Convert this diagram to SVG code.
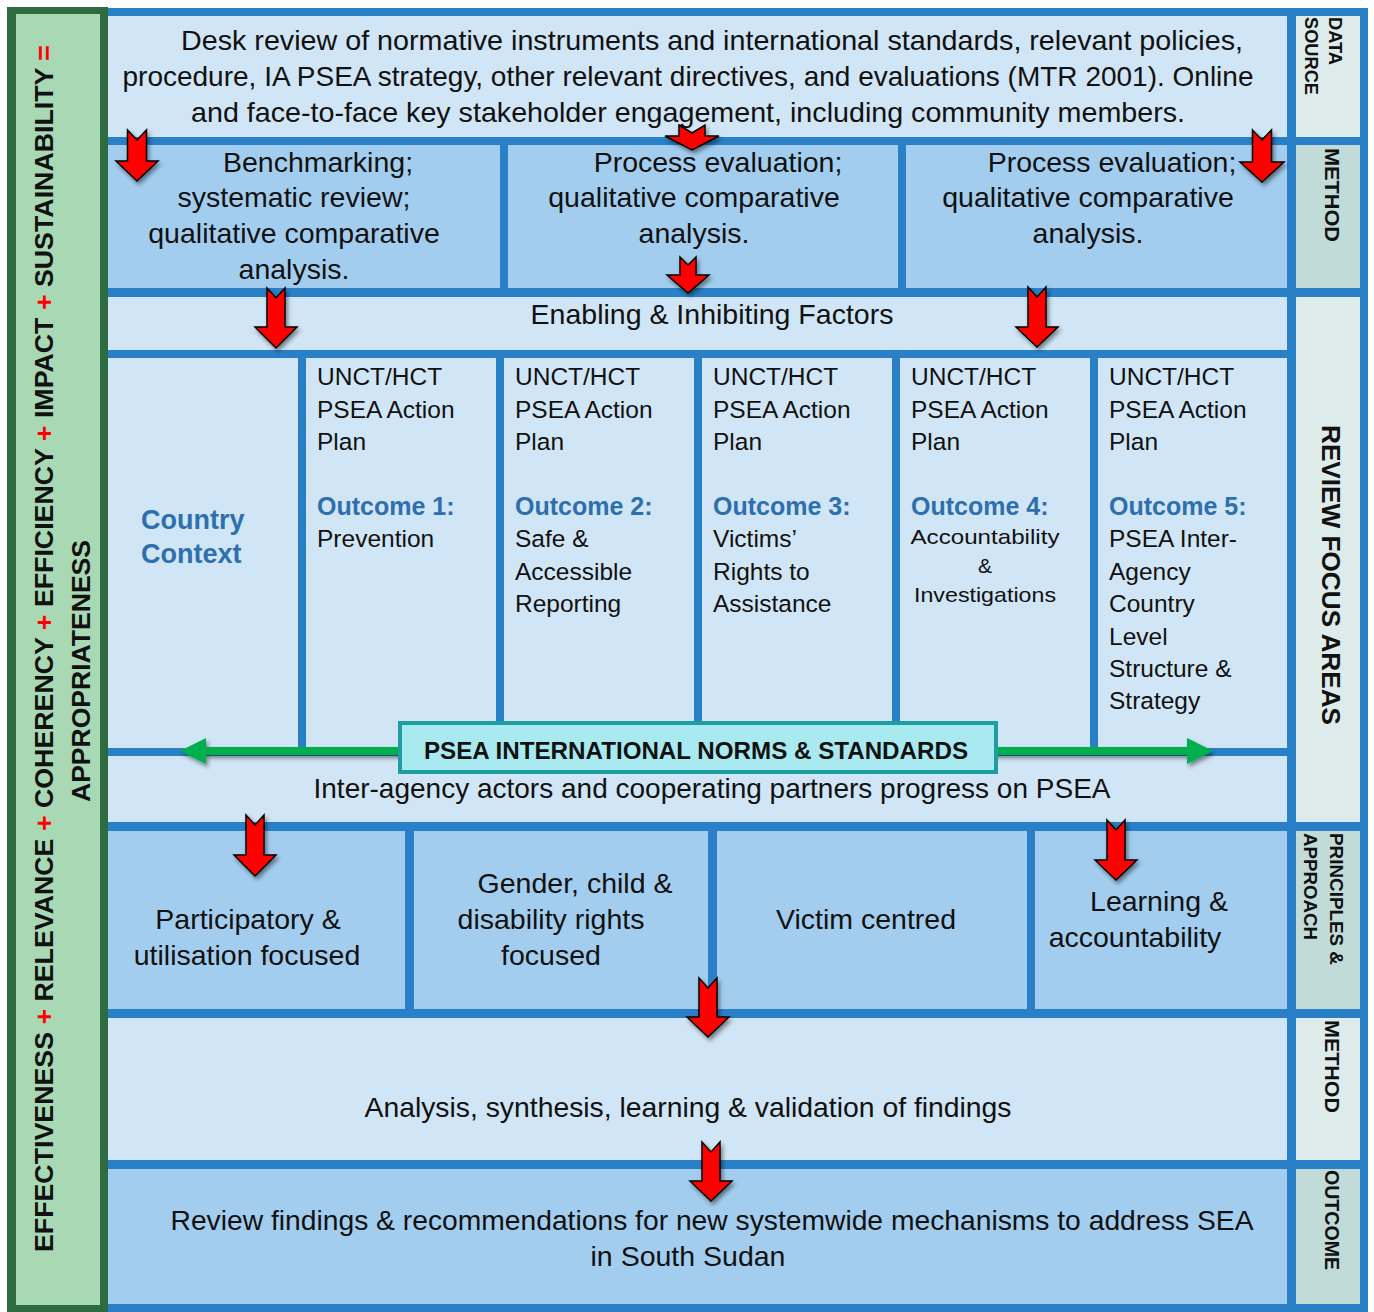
<svg xmlns="http://www.w3.org/2000/svg" width="1374" height="1312" viewBox="0 0 1374 1312">
<defs>
<style>
.t{font-family:"Liberation Sans",Arial,sans-serif;fill:#111}
.m{font-size:28.5px;text-anchor:middle}
.c{font-size:24.5px}
.ob{font-size:25px;font-weight:bold;fill:#2e6fad}
.lbl{font-family:"Liberation Sans",Arial,sans-serif;font-weight:bold;fill:#111}
.light{fill:#d0e5f5}
.med{fill:#a3cdee}
.ll{fill:#ddebeb}
.ld{fill:#c0dbd8}
.arr{fill:#ff0000;stroke:#000;stroke-width:1.5;stroke-linejoin:miter;filter:url(#sh)}
.red{fill:#ff0000}
</style>
<filter id="sh" x="-40%" y="-40%" width="180%" height="180%"><feDropShadow dx="2" dy="3" stdDeviation="2" flood-color="#000" flood-opacity="0.45"/></filter>
</defs>
<rect x="0" y="0" width="1374" height="1312" fill="#ffffff"/>

<g id="criteria-bar">
<rect x="7" y="7" width="101" height="1305" fill="#2e6b40"/>
<rect x="16" y="14" width="84" height="1291" fill="#a9d8b4"/>
<text class="lbl" font-size="26" transform="translate(53 1252) rotate(-90)" textLength="1207" lengthAdjust="spacingAndGlyphs">EFFECTIVENESS <tspan class="red">+</tspan> RELEVANCE <tspan class="red">+</tspan> COHERENCY <tspan class="red">+</tspan> EFFICIENCY <tspan class="red">+</tspan> IMPACT <tspan class="red">+</tspan> SUSTAINABILITY <tspan class="red">=</tspan></text>
<text class="lbl" font-size="26" transform="translate(90 802) rotate(-90)" textLength="262" lengthAdjust="spacingAndGlyphs">APPROPRIATENESS</text>
</g>

<rect id="frame" x="108" y="8" width="1260" height="1304" fill="#2a80c6"/>

<g id="side-labels">
<rect class="ll" x="1296" y="16" width="64" height="121"/>
<rect class="ld" x="1296" y="145" width="64" height="143"/>
<rect class="ll" x="1296" y="297" width="64" height="525"/>
<rect class="ld" x="1296" y="831" width="64" height="178"/>
<rect class="ll" x="1296" y="1018" width="64" height="142"/>
<rect class="ld" x="1296" y="1169" width="64" height="135"/>
<text class="lbl" font-size="18" transform="translate(1329 17) rotate(90)" textLength="48" lengthAdjust="spacingAndGlyphs">DATA</text>
<text class="lbl" font-size="18" transform="translate(1305 17) rotate(90)" textLength="78" lengthAdjust="spacingAndGlyphs">SOURCE</text>
<text class="lbl" font-size="20" transform="translate(1325 148) rotate(90)" textLength="94" lengthAdjust="spacingAndGlyphs">METHOD</text>
<text class="lbl" font-size="25" transform="translate(1322 425) rotate(90)" textLength="300" lengthAdjust="spacingAndGlyphs">REVIEW FOCUS AREAS</text>
<text class="lbl" font-size="18" transform="translate(1330 833) rotate(90)" textLength="132" lengthAdjust="spacingAndGlyphs">PRINCIPLES &amp;</text>
<text class="lbl" font-size="18" transform="translate(1304 833) rotate(90)" textLength="107" lengthAdjust="spacingAndGlyphs">APPROACH</text>
<text class="lbl" font-size="20" transform="translate(1325 1020) rotate(90)" textLength="93" lengthAdjust="spacingAndGlyphs">METHOD</text>
<text class="lbl" font-size="20" transform="translate(1325 1170) rotate(90)" textLength="100" lengthAdjust="spacingAndGlyphs">OUTCOME</text>
</g>

<g id="data-source">
<rect class="light" x="108" y="16" width="1179" height="121"/>
<text class="t m" x="712" y="50" textLength="1062" lengthAdjust="spacingAndGlyphs">Desk review of normative instruments and international standards, relevant policies,</text>
<text class="t m" x="688" y="86" textLength="1131" lengthAdjust="spacingAndGlyphs">procedure, IA PSEA strategy, other relevant directives, and evaluations (MTR 2001). Online</text>
<text class="t m" x="688" y="122" textLength="994" lengthAdjust="spacingAndGlyphs">and face-to-face key stakeholder engagement, including community members.</text>
</g>

<g id="method-benchmarking">
<rect class="med" x="108" y="145" width="392" height="143"/>
<text class="t m" x="318" y="172">Benchmarking;</text>
<text class="t m" x="294" y="207">systematic review;</text>
<text class="t m" x="294" y="243">qualitative comparative</text>
<text class="t m" x="294" y="279">analysis.</text>
</g>
<g id="method-process-1">
<rect class="med" x="508" y="145" width="390" height="143"/>
<text class="t m" x="718" y="172">Process evaluation;</text>
<text class="t m" x="694" y="207">qualitative comparative</text>
<text class="t m" x="694" y="243">analysis.</text>
</g>
<g id="method-process-2">
<rect class="med" x="906" y="145" width="381" height="143"/>
<text class="t m" x="1112" y="172">Process evaluation;</text>
<text class="t m" x="1088" y="207">qualitative comparative</text>
<text class="t m" x="1088" y="243">analysis.</text>
</g>

<g id="enabling">
<rect class="light" x="108" y="297" width="1179" height="53"/>
<text class="t m" x="712" y="324">Enabling &amp; Inhibiting Factors</text>
</g>

<g id="country-context">
<rect class="light" x="108" y="358" width="190" height="390"/>
<text class="t" font-size="27" font-weight="bold" fill="#2e6fad" style="fill:#2e6fad" x="141" y="529">Country</text>
<text class="t" font-size="27" font-weight="bold" style="fill:#2e6fad" x="141" y="563">Context</text>
</g>
<g id="outcome-1">
<rect class="light" x="306" y="358" width="190" height="390"/>
<text class="t c" x="317" y="385">UNCT/HCT</text>
<text class="t c" x="317" y="418">PSEA Action</text>
<text class="t c" x="317" y="450">Plan</text>
<text class="t ob" x="317" y="515">Outcome 1:</text>
<text class="t c" x="317" y="547">Prevention</text>
</g>
<g id="outcome-2">
<rect class="light" x="504" y="358" width="190" height="390"/>
<text class="t c" x="515" y="385">UNCT/HCT</text>
<text class="t c" x="515" y="418">PSEA Action</text>
<text class="t c" x="515" y="450">Plan</text>
<text class="t ob" x="515" y="515">Outcome 2:</text>
<text class="t c" x="515" y="547">Safe &amp;</text>
<text class="t c" x="515" y="580">Accessible</text>
<text class="t c" x="515" y="612">Reporting</text>
</g>
<g id="outcome-3">
<rect class="light" x="702" y="358" width="190" height="390"/>
<text class="t c" x="713" y="385">UNCT/HCT</text>
<text class="t c" x="713" y="418">PSEA Action</text>
<text class="t c" x="713" y="450">Plan</text>
<text class="t ob" x="713" y="515">Outcome 3:</text>
<text class="t c" x="713" y="547">Victims’</text>
<text class="t c" x="713" y="580">Rights to</text>
<text class="t c" x="713" y="612">Assistance</text>
</g>
<g id="outcome-4">
<rect class="light" x="900" y="358" width="190" height="390"/>
<text class="t c" x="911" y="385">UNCT/HCT</text>
<text class="t c" x="911" y="418">PSEA Action</text>
<text class="t c" x="911" y="450">Plan</text>
<text class="t ob" x="911" y="515">Outcome 4:</text>
<text class="t" font-size="21" text-anchor="middle" x="985" y="544" textLength="149" lengthAdjust="spacingAndGlyphs">Accountability</text>
<text class="t" font-size="21" text-anchor="middle" x="985" y="573">&amp;</text>
<text class="t" font-size="21" text-anchor="middle" x="985" y="602" textLength="142" lengthAdjust="spacingAndGlyphs">Investigations</text>
</g>
<g id="outcome-5">
<rect class="light" x="1098" y="358" width="189" height="390"/>
<text class="t c" x="1109" y="385">UNCT/HCT</text>
<text class="t c" x="1109" y="418">PSEA Action</text>
<text class="t c" x="1109" y="450">Plan</text>
<text class="t ob" x="1109" y="515">Outcome 5:</text>
<text class="t c" x="1109" y="547">PSEA Inter-</text>
<text class="t c" x="1109" y="580">Agency</text>
<text class="t c" x="1109" y="612">Country</text>
<text class="t c" x="1109" y="645">Level</text>
<text class="t c" x="1109" y="677">Structure &amp;</text>
<text class="t c" x="1109" y="709">Strategy</text>
</g>

<g id="inter-agency">
<rect class="light" x="108" y="756" width="1179" height="66"/>
<text class="t m" x="712" y="798" textLength="797" lengthAdjust="spacingAndGlyphs">Inter-agency actors and cooperating partners progress on PSEA</text>
</g>

<g id="principle-participatory">
<rect class="med" x="108" y="831" width="297" height="178"/>
<text class="t m" x="248" y="929">Participatory &amp;</text>
<text class="t m" x="247" y="965">utilisation focused</text>
</g>
<g id="principle-gender">
<rect class="med" x="414" y="831" width="294" height="178"/>
<text class="t m" x="575" y="893">Gender, child &amp;</text>
<text class="t m" x="551" y="929">disability rights</text>
<text class="t m" x="551" y="965">focused</text>
</g>
<g id="principle-victim">
<rect class="med" x="717" y="831" width="310" height="178"/>
<text class="t m" x="866" y="929">Victim centred</text>
</g>
<g id="principle-learning">
<rect class="med" x="1035" y="831" width="252" height="178"/>
<text class="t m" x="1159" y="911">Learning &amp;</text>
<text class="t m" x="1135" y="947">accountability</text>
</g>

<g id="analysis">
<rect class="light" x="108" y="1018" width="1179" height="142"/>
<text class="t m" x="688" y="1117" textLength="647" lengthAdjust="spacingAndGlyphs">Analysis, synthesis, learning &amp; validation of findings</text>
</g>

<g id="review-outcome">
<rect class="med" x="108" y="1169" width="1179" height="135"/>
<text class="t m" x="712" y="1230" textLength="1083" lengthAdjust="spacingAndGlyphs">Review findings &amp; recommendations for new systemwide mechanisms to address SEA</text>
<text class="t m" x="688" y="1266">in South Sudan</text>
</g>

<g id="connectors">
<g filter="url(#sh)">
<line x1="200" y1="751" x2="1193" y2="751" stroke="#00b050" stroke-width="8"/>
<polygon points="180,751 206,738 206,764" fill="#00b050"/>
<polygon points="1213,751 1187,738 1187,764" fill="#00b050"/>
</g>
<path class="arr" d="M127.5,130 L137,140 L146.5,130 L146.5,161 L158,161 L137,181 L116,161 L127.5,161 Z"/>
<path class="arr" d="M679,125 L692,133 L705,125 L705,136 L719,136 L692,150 L665,136 L679,136 Z"/>
<path class="arr" d="M1252.5,130 L1262,140 L1271.5,130 L1271.5,162 L1284,162 L1262,182 L1240,162 L1252.5,162 Z"/>
<path class="arr" d="M680,257 L688,265 L696,257 L696,275 L709,275 L688,293 L667,275 L680,275 Z"/>
<path class="arr" d="M267,288 L276,298 L285,288 L285,327 L297,327 L276,348 L255,327 L267,327 Z"/>
<path class="arr" d="M1028,287 L1037,297 L1046,287 L1046,327 L1058,327 L1037,347 L1016,327 L1028,327 Z"/>
<path class="arr" d="M246,815 L255,825 L264,815 L264,855 L276,855 L255,876 L234,855 L246,855 Z"/>
<path class="arr" d="M1107,820 L1116,830 L1125,820 L1125,860 L1137,860 L1116,880 L1095,860 L1107,860 Z"/>
<path class="arr" d="M699,978 L708,988 L717,978 L717,1017 L729,1017 L708,1037 L687,1017 L699,1017 Z"/>
<path class="arr" d="M702,1142 L711,1152 L720,1142 L720,1181 L732,1181 L711,1201 L690,1181 L702,1181 Z"/>
</g>

<g id="psea-norms">
<rect x="400" y="723" width="596" height="49" fill="#a8eaf0" stroke="#1e9e9e" stroke-width="4"/>
<text class="lbl" font-size="23.5" text-anchor="middle" x="696" y="759" textLength="544" lengthAdjust="spacingAndGlyphs">PSEA INTERNATIONAL NORMS &amp; STANDARDS</text>
</g>
</svg>
